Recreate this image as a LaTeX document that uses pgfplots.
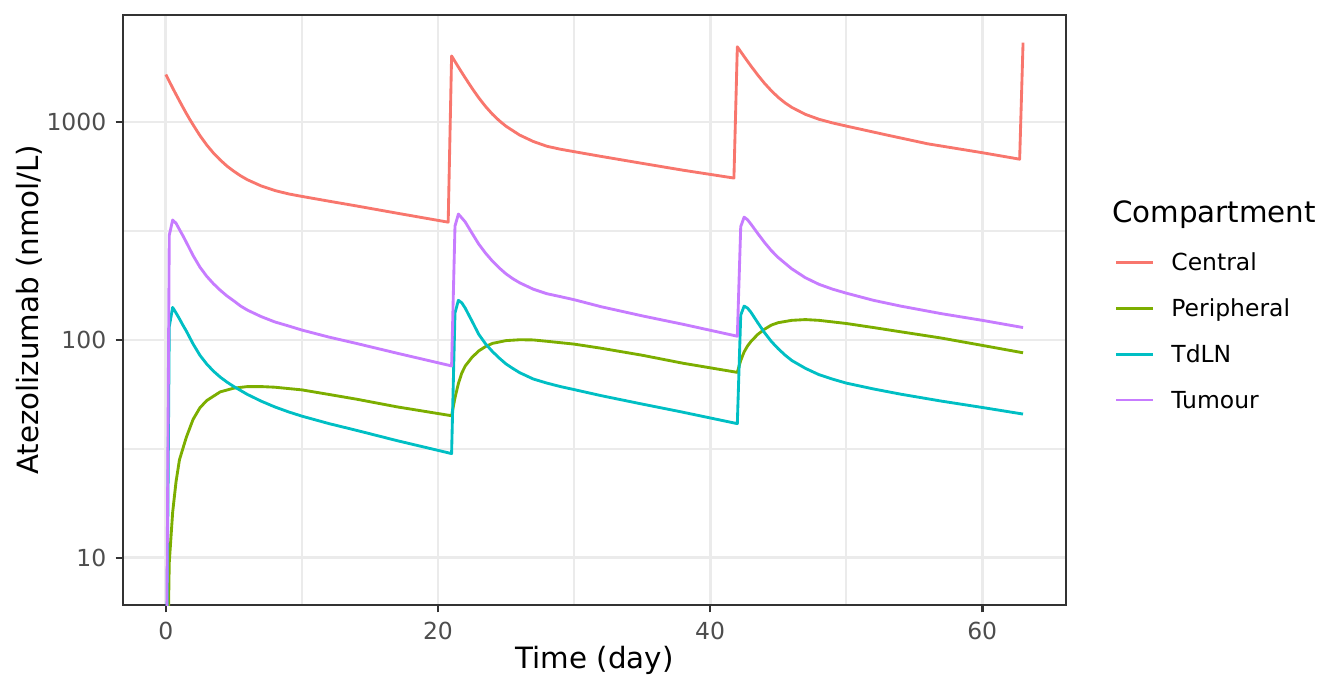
\documentclass[border=0pt]{standalone}
\usepackage{fontspec}
\setmainfont{DejaVu Sans}
\usepackage{pgfplots}
\pgfplotsset{compat=1.18}

\definecolor{cCentral}{HTML}{F8766D}
\definecolor{cPeripheral}{HTML}{7CAE00}
\definecolor{cTdLN}{HTML}{00BFC4}
\definecolor{cTumour}{HTML}{C77CFF}
\definecolor{gridc}{HTML}{EBEBEB}
\definecolor{gray20}{HTML}{333333}
\definecolor{gray30}{HTML}{4D4D4D}

\begin{document}
\begin{tikzpicture}
\path[use as bounding box] (-46.125pt,-32.25pt) rectangle (457.875pt,226.875pt);
\begin{axis}[
    name=ax,
    at={(0,0)}, anchor=south west,
    scale only axis,
    width=353.6pt, height=221.25pt,
    xmin=-3.15, xmax=66.15,
    ymode=log, ymin=6.08, ymax=3097,
    xtick={0,20,40,60}, xticklabels={0,20,40,60},
    minor xtick={10,30,50},
    ytick={10,100,1000}, yticklabels={10,100,1000},
    minor ytick={31.62,316.2},
    tick pos=left, tick align=outside,
    major tick length=2.75pt, minor tick length=0pt,
    every tick/.style={gray20, line width=1pt},
    grid=both,
    major grid style={gridc, line width=1.07pt},
    minor grid style={gridc, line width=0.53pt},
    axis line style={gray20, line width=0.6pt},
    ticklabel style={font=\fontsize{8.8}{10}\selectfont, text=gray30},
    /pgf/number format/assume math mode=true,
    xlabel={Time (day)},
    ylabel={Atezolizumab (nmol/L)},
    label style={font=\fontsize{11}{13}\selectfont},
    xlabel style={at={(axis description cs:0.5,-0.0932)}, anchor=center},
    ylabel style={at={(axis description cs:-0.0996,0.5)}, anchor=center},
    legend style={
        at={(1.0520,0.4641)}, anchor=west,
        draw=none, fill=none, inner sep=0pt, outer sep=0pt,
        font=\fontsize{8.8}{10}\selectfont,
        row sep=10.8pt, column sep=6.2pt,
        cells={anchor=west},
        nodes={inner sep=0pt, text height=6.4pt, text depth=0pt},
    },
    legend image code/.code={\draw[#1] (0pt,0pt) -- (13.9pt,0pt);},
    every axis plot/.append style={line width=1.07pt, line join=round},
]

% Central
\addplot[cCentral] coordinates {
(0,1652)(0.25,1538)(0.5,1432)(0.75,1337)(1,1250)(1.25,1169)(1.5,1096)(1.75,1030)
(2,971)(2.5,867)(3,785)(3.5,720)(4,669)(4.5,627)(5,594)(5.5,566)(6,543)(7,509)
(8,485)(9,468)(10,455.5)(12,433)(14,412)(17,381.5)(20.75,347)
(21,2009)(21.25,1894)(21.5,1786)(21.75,1687)(22,1595)(22.5,1429)(23,1290)(23.5,1177)
(24,1086)(24.5,1014)(25,956)(26,871)(27,814)(28,774)(29,750)(30,731)(32,695)
(35,646)(38,601)(41.75,553)
(42,2213)(42.25,2102)(42.5,1997)(42.75,1899)(43,1807)(43.5,1643)(44,1504)(44.5,1391)
(45,1298)(45.5,1225)(46,1167)(47,1084)(48,1029)(49,990)(50,958)(53,871)(56,794)
(60,723)(62.75,675)(63,2312)
};
\addlegendentry{Central}

% Peripheral
\addplot[cPeripheral] coordinates {
(0,1)(0.25,9.5)(0.5,16.2)(0.75,22.4)(1,28.2)(1.5,35.7)(2,43.2)(2.5,48.8)(3,52.7)
(4,57.8)(5,60.1)(6,61.1)(7,61.1)(8,60.7)(10,59.0)(12,56.2)(14,53.5)(17,49.3)(21,44.9)
(21.25,54.3)(21.5,63.1)(21.75,70.5)(22,75.9)(22.5,83.2)(23,89.1)(23.5,93.3)(24,96.4)
(25,99.3)(26,100.2)(27,100.0)(28,98.6)(30,95.7)(32,91.6)(35,85.1)(38,78.2)(42,71.0)
(42.25,80.5)(42.5,88.1)(42.75,93.8)(43,98.4)(43.5,106)(44,112)(44.5,117)(45,120)
(46,123)(47,124)(48,123)(50,119)(52,114)(54,109)(57,102)(60,94.4)(63,87.3)
};
\addlegendentry{Peripheral}

% TdLN
\addplot[cTdLN] coordinates {
(0,1)(0.25,115)(0.5,141)(0.75,133)(1,125)(1.25,117)(1.5,110)(2,95.9)(2.5,85.1)
(3,77.6)(3.5,71.9)(4,67.5)(4.5,64.0)(5,61.1)(6,56.2)(7,52.4)(8,49.3)(9,46.8)
(10,44.7)(12,41.3)(14,38.5)(17,34.5)(21,30.1)
(21.25,133)(21.5,152)(21.75,148)(22,140)(22.5,122)(23,106)(23.5,95.9)(24,88.5)
(24.5,82.6)(25,77.6)(25.5,74.0)(26,70.8)(27,66.2)(28,63.4)(29,61.1)(30,59.2)
(32,55.5)(35,50.8)(38,46.6)(42,41.3)
(42.25,130)(42.5,143)(42.75,140)(43,134)(43.5,120)(44,108)(44.5,98.4)(45,91.2)
(45.5,85.3)(46,80.5)(47,74.1)(48,69.3)(49,66.1)(50,63.4)(52,59.6)(54,56.4)
(57,52.4)(60,49.0)(63,45.7)
};
\addlegendentry{TdLN}

% Tumour
\addplot[cTumour] coordinates {
(0,1)(0.25,302)(0.5,355)(0.75,343)(1,321)(1.25,301)(1.5,281)(2,244)(2.5,216)
(3,196)(3.5,181)(4,169)(4.5,159)(5,151)(5.5,143)(6,137)(7,128)(8,121)(9,116)
(10,111)(12,103)(14,96.4)(17,86.9)(21,76.0)
(21.25,333)(21.5,378)(21.75,363)(22,348)(22.5,309)(23,275)(23.5,250)(24,230)
(24.5,214)(25,201)(25.5,191)(26,183)(27,171)(28,163)(29,158)(30,153)(32,142)
(35,129)(38,118)(42,104)
(42.25,331)(42.5,366)(42.75,356)(43,340)(43.5,308)(44,280)(44.5,257)(45,239)
(45.5,225)(46,212)(47,193)(48,180)(49,171)(50,164)(52,152)(54,143)(57,132)
(60,123)(63,114)
};
\addlegendentry{Tumour}
\end{axis}

% legend title, placed from the axis box (panel origin at 0,0)
\node[anchor=base west, inner sep=0pt, font=\fontsize{11}{13}\selectfont]
    at (370.75pt,143.6pt) {Compartment};
\end{tikzpicture}
\end{document}
